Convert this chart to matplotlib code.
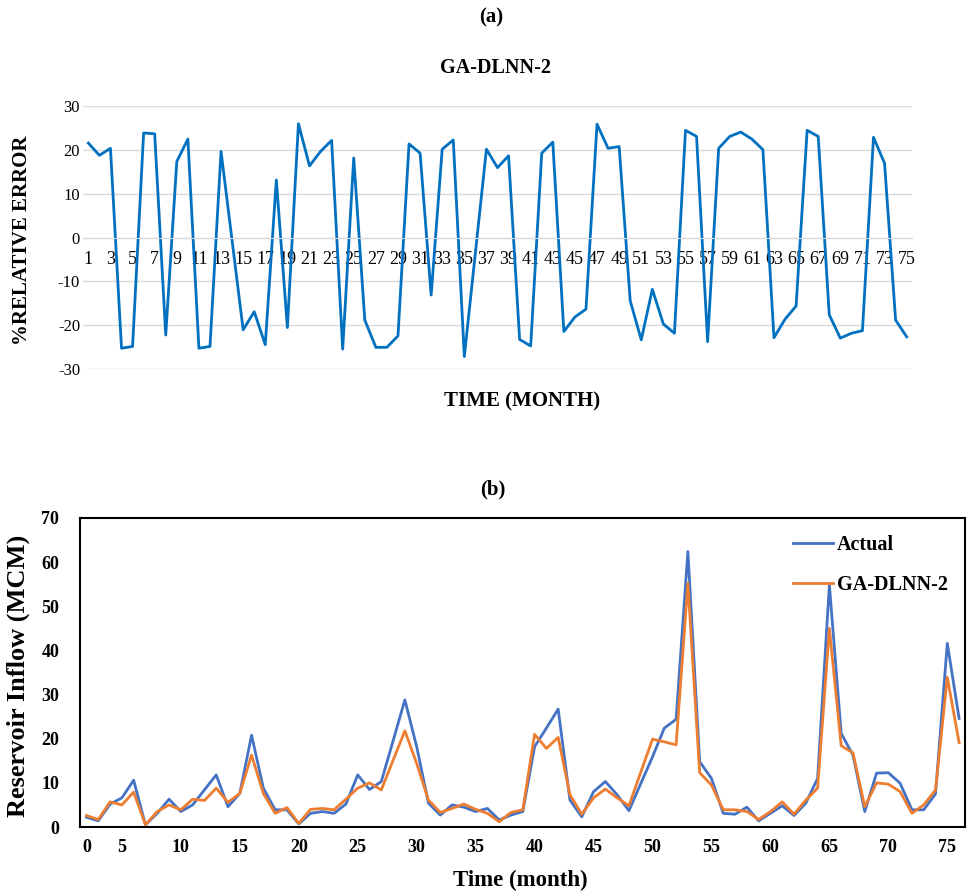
import numpy as np
import matplotlib
matplotlib.use("Agg")
import matplotlib.pyplot as plt

plt.rcParams['font.family'] = ['Liberation Serif', 'DejaVu Serif']
plt.rcParams['axes.unicode_minus'] = False

# (a) relative error, months 1..75
months_a = np.arange(1, 76)
rel_error = [21.5, 18.7, 20.3, -25.2, -24.8, 23.8, 23.6, -22.2, 17.3, 22.4,
             -25.2, -24.8, 19.6, -0.7, -21.0, -16.9, -24.4, 13.1, -20.5, 25.9,
             16.3, 19.6, 22.1, -25.4, 18.1, -18.8, -25.0, -25.0, -22.4, 21.3,
             19.2, -13.1, 20.1, 22.2, -27.1, -3.5, 20.1, 15.9, 18.6, -23.2,
             -24.7, 19.2, 21.7, -21.4, -18.1, -16.3, 25.8, 20.3, 20.7, -14.4,
             -23.3, -11.8, -19.7, -21.8, 24.4, 23.0, -23.7, 20.3, 23.0, 24.0,
             22.4, 20.0, -22.8, -18.6, -15.6, 24.4, 23.0, -17.6, -22.9, -21.8,
             -21.2, 22.8, 16.9, -18.8, -22.6]

# (b) reservoir inflow, months 2..76
months_b = np.arange(2, 77)
actual = [2.2, 1.4, 5.2, 6.6, 10.6, 0.5, 3.1, 6.3, 3.5, 5.0,
          8.4, 11.8, 4.6, 7.6, 20.8, 8.8, 3.9, 3.9, 0.7, 3.1,
          3.5, 3.1, 5.2, 11.8, 8.5,
          10.3, 19.5, 28.8, 18.2, 5.4, 2.7, 5.0, 4.5, 3.5, 4.2,
          1.6, 2.7, 3.5, 18.2, 22.4, 26.7, 6.1, 2.3, 8.0, 10.3,
          7.3, 3.7, 9.8, 15.9, 22.4, 24.4, 62.4, 14.8, 11.0, 3.1,
          2.9, 4.5, 1.4, 3.1, 4.8, 2.6, 5.4, 11.0, 54.8, 21.2,
          16.3, 3.5, 12.2, 12.3, 9.9, 3.9, 3.9, 7.5, 41.6, 24.6]
predicted = [2.6, 1.7, 5.7, 5.0, 7.9, 0.5, 3.5, 5.0, 3.9, 6.3,
             6.0, 8.8, 5.6, 7.6, 16.3, 7.6, 3.1, 4.4, 0.8, 4.0,
             4.2, 3.9, 6.3, 8.8, 10.0,
             8.4, 15.1, 21.8, 14.4, 6.1, 3.3, 4.2, 5.2, 4.0, 3.1,
             1.2, 3.3, 3.9, 21.0, 17.8, 20.3, 7.3, 2.9, 6.6, 8.6,
             6.6, 4.8, 12.4, 19.9, 19.3, 18.6, 55.2, 12.3, 9.5, 3.9,
             3.9, 3.5, 1.7, 3.5, 5.7, 2.9, 6.1, 8.8, 45.0, 18.4,
             16.8, 4.6, 10.0, 9.7, 8.0, 3.1, 5.0, 8.4, 33.9, 19.1]

xtick_pos_b = [2, 5, 10, 15, 20, 25, 30, 35, 40, 45, 50, 55, 60, 65, 70, 75]
xtick_lab_b = ['0', '5', '10', '15', '20', '25', '30', '35', '40', '45',
               '50', '55', '60', '65', '70', '75']

W, H = 968, 894
fig = plt.figure(figsize=(W / 100, H / 100), dpi=100)

# ---------------- (a) ----------------
ax1 = fig.add_axes([82.8 / W, 1 - 369.3 / H, (912.2 - 82.8) / W, 263.6 / H])
ax1.plot(months_a, rel_error, color='#0070C0', lw=2.0)
ax1.set_xlim(0.5, 75.5)
ax1.set_ylim(-30, 30)
ax1.set_yticks(range(-30, 31, 10))
ax1.set_xticks(range(1, 76, 2))
ax1.grid(axis='y', color='#D9D9D9', lw=1.0)
ax1.set_axisbelow(True)
for s in ['top', 'right', 'left']:
    ax1.spines[s].set_visible(False)
ax1.spines['bottom'].set_position(('data', 0))
ax1.spines['bottom'].set_color('#D9D9D9')
ax1.tick_params(axis='both', length=0, labelsize=12)
ax1.tick_params(axis='x', pad=10, labelsize=13)
ax1.tick_params(axis='y', pad=2)

fig.text(491 / W, 1 - 17 / H, '(a)', ha='center', va='center',
         fontsize=15, fontweight='bold')
fig.text(496 / W, 1 - 68 / H, 'GA-DLNN-2', ha='center', va='center',
         fontsize=14.5, fontweight='bold')
fig.text(22 / W, 1 - 240 / H, '%RELATIVE ERROR', ha='center', va='center',
         rotation=90, fontsize=15, fontweight='bold')
fig.text(522 / W, 1 - 401 / H, 'TIME (MONTH)', ha='center', va='center',
         fontsize=15, fontweight='bold')

# ---------------- (b) ----------------
ax2 = fig.add_axes([80 / W, 1 - 827 / H, 885 / W, 309 / H])
ax2.plot(months_b, actual, color='#4472C4', lw=2.0, label='Actual')
ax2.plot(months_b, predicted, color='#ED7D31', lw=2.0, label='GA-DLNN-2')
ax2.set_xlim(1.45, 76.5)
ax2.set_ylim(0, 70)
ax2.set_yticks(range(0, 71, 10))
ax2.set_xticks(xtick_pos_b)
ax2.set_xticklabels(xtick_lab_b)
for s in ax2.spines.values():
    s.set_linewidth(1.5)
    s.set_color('black')
ax2.tick_params(axis='both', length=0, labelsize=13)
ax2.tick_params(axis='x', pad=9)
ax2.tick_params(axis='y', pad=15)
for lab in ax2.get_xticklabels() + ax2.get_yticklabels():
    lab.set_fontweight('bold')

leg = ax2.legend(loc='upper left', bbox_to_anchor=(0.785, 1.005), frameon=False,
                 handlelength=2.0, handletextpad=0.2, labelspacing=1.0,
                 prop={'size': 14.5, 'weight': 'bold'})

fig.text(493 / W, 1 - 489 / H, '(b)', ha='center', va='center',
         fontsize=15, fontweight='bold')
fig.text(18 / W, 1 - 676 / H, 'Reservoir Inflow (MCM)', ha='center', va='center',
         rotation=90, fontsize=19, fontweight='bold')
fig.text(520 / W, 1 - 880 / H, 'Time (month)', ha='center', va='center',
         fontsize=16.5, fontweight='bold')

fig.savefig('out.png', dpi=100, facecolor='white')
